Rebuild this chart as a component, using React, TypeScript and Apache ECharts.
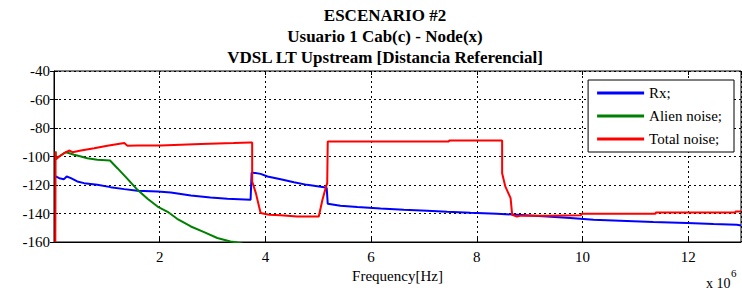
import React, { useEffect, useRef } from "react";
import * as echarts from "echarts";

// Frequencies in units of 1e6 Hz, levels in dB
const rxFreq = [0.03, 0.1, 0.19, 0.24, 0.32, 0.44, 0.57, 0.82, 1.07, 1.33, 1.58, 1.96, 2.21, 2.59, 2.96, 3.28, 3.72, 3.74, 3.91, 4.04, 4.29, 4.54, 4.79, 5.11, 5.16, 5.18, 5.42, 5.74, 6.18, 6.62, 7.06, 7.44, 7.88, 8.38, 8.76, 9.33, 9.77, 10.21, 10.71, 11.34, 11.98, 12.48, 12.92, 13.0];
const rxLevel = [-114.0, -115.2, -115.9, -114.0, -115.2, -117.5, -118.7, -119.9, -121.5, -122.9, -124.1, -124.6, -125.3, -127.4, -128.8, -129.7, -130.4, -111.2, -112.2, -114.0, -115.9, -118.0, -119.9, -121.5, -122.0, -133.2, -134.6, -135.5, -136.5, -137.4, -138.1, -138.8, -139.5, -140.2, -140.9, -142.1, -143.2, -144.4, -145.1, -146.0, -146.7, -147.4, -147.9, -148.4];

const alienFreq = [0.03, 0.034, 0.096, 0.19, 0.22, 0.29, 0.38, 0.51, 0.63, 0.82, 1.06, 1.2, 1.39, 1.58, 1.77, 1.96, 2.15, 2.33, 2.59, 2.84, 3.09, 3.34, 3.44, 3.6];
const alienLevel = [-96.5, -101.9, -100.0, -97.7, -97.0, -97.7, -98.8, -100.0, -101.2, -102.3, -102.8, -108.2, -115.7, -123.4, -129.7, -135.1, -138.8, -143.7, -149.1, -153.1, -157.2, -159.6, -160.2, -161.5];

const totalFreq = [0.025, 0.03, 0.034, 0.096, 0.19, 0.285, 0.35, 0.51, 0.76, 1.01, 1.33, 1.39, 1.58, 2.02, 2.4, 2.78, 3.4, 3.72, 3.75, 3.75, 3.82, 3.88, 3.91, 4.07, 4.29, 4.6, 5.01, 5.08, 5.14, 5.17, 5.18, 7.47, 7.48, 8.48, 8.48, 8.54, 8.64, 8.67, 8.76, 8.82, 9.35, 9.97, 9.99, 11.38, 11.39, 12.89, 12.9, 13.0];
const totalLevel = [-160, -96.5, -101.9, -100.0, -97.7, -95.8, -97.0, -95.8, -94.2, -92.5, -90.6, -92.5, -92.3, -92.3, -91.8, -91.3, -90.6, -90.2, -90.2, -117.5, -125.7, -135.1, -139.7, -140.9, -141.2, -142.1, -142.1, -130.4, -122.2, -118.7, -89.5, -89.5, -88.8, -88.8, -111.7, -121.0, -129.2, -140.9, -142.1, -141.6, -141.6, -141.2, -140.2, -140.2, -139.3, -139.3, -138.6, -138.6];

const seriesNames = ["Rx;", "Alien noise;", "Total noise;"];
const seriesColors = ["#0000ff", "#008000", "#ff0000"];
const titleLines = ["ESCENARIO #2", "Usuario 1 Cab(c) - Node(x)", "VDSL LT Upstream [Distancia Referencial]"];
const xTicks = [0, 2, 4, 6, 8, 10, 12];
const yTicks = [-160, -140, -120, -100, -80, -60, -40];

const FONT = "'Liberation Serif', 'Times New Roman', serif";

function pairs(xs: number[], ys: number[]) {
  return xs.map((x, i) => [x, ys[i]]);
}

export default function App() {
  const ref = useRef<HTMLDivElement>(null);
  useEffect(() => {
    if (!ref.current) return;
    const chart = echarts.init(ref.current, null, { renderer: "svg" });
    const xMin = xTicks[0];
    const xMax = 13;
    const yMin = yTicks[0];
    const yMax = yTicks[yTicks.length - 1];
    const dash = { color: "#000", type: [2, 3] as any, width: 1 };
    const axisText = { color: "#000", fontFamily: FONT, fontSize: 15, fontWeight: "normal" };
    const data = [pairs(rxFreq, rxLevel), pairs(alienFreq, alienLevel), pairs(totalFreq, totalLevel)];
    chart.setOption({
      animation: false,
      backgroundColor: "#fff",
      textStyle: { fontFamily: FONT },
      grid: { left: 54, top: 71, right: 1, bottom: 52, show: true, borderColor: "#000", borderWidth: 1, containLabel: false },
      xAxis: [
        {
          type: "value", min: xMin, max: xMax, interval: 2,
          axisLine: { show: true, lineStyle: { color: "#000" } },
          axisTick: { inside: true, length: 4, lineStyle: { color: "#000" } },
          axisLabel: { ...axisText, margin: 7, showMaxLabel: false, formatter: (v: number) => (v === 0 ? "" : String(v)) },
          splitLine: { show: true, lineStyle: dash },
          name: "Frequency[Hz]", nameLocation: "middle", nameGap: 23,
          nameTextStyle: { ...axisText },
        },
        {
          type: "value", min: xMin, max: xMax, interval: 2, position: "top",
          axisLine: { show: false }, axisTick: { inside: true, length: 4, lineStyle: { color: "#000" } },
          axisLabel: { show: false }, splitLine: { show: false },
        },
      ],
      yAxis: [
        {
          type: "value", min: yMin, max: yMax, interval: 20,
          axisLine: { show: true, lineStyle: { color: "#000" } },
          axisTick: { inside: true, length: 4, lineStyle: { color: "#000" } },
          axisLabel: { ...axisText, margin: 4 },
          splitLine: { show: true, lineStyle: dash },
        },
        {
          type: "value", min: yMin, max: yMax, interval: 20, position: "right",
          axisLine: { show: false }, axisTick: { inside: true, length: 4, lineStyle: { color: "#000" } },
          axisLabel: { show: false }, splitLine: { show: false },
        },
      ],
      legend: {
        orient: "vertical", right: 8, top: 80,
        data: seriesNames,
        backgroundColor: "#fff", borderColor: "#000", borderWidth: 1,
        padding: [5, 12, 5, 9],
        itemWidth: 47, itemHeight: 3, itemGap: 7,
        icon: "rect",
        textStyle: { color: "#000", fontFamily: FONT, fontSize: 15, lineHeight: 16 },
      },
      series: seriesNames.map((name, i) => ({
        name, type: "line", data: data[i], showSymbol: false, symbol: "none",
        color: seriesColors[i],
        lineStyle: { color: seriesColors[i], width: 2 },
        clip: true, z: 2 + i,
      })),
      graphic: [
        ...titleLines.map((t, i) => ({
          type: "text", x: 385, y: 15 + i * 21,
          style: { text: t, align: "center", verticalAlign: "middle", fill: "#000", fontFamily: FONT, fontWeight: "bold", fontSize: 17 },
        })),
        {
          type: "text", x: 706, y: 283,
          style: { text: "x 10", align: "left", verticalAlign: "middle", fill: "#000", fontFamily: FONT, fontSize: 14 },
        },
        {
          type: "text", x: 731, y: 273,
          style: { text: "6", align: "left", verticalAlign: "middle", fill: "#000", fontFamily: FONT, fontSize: 11 },
        },
      ],
    });
    return () => chart.dispose();
  }, []);
  return (
    <>
      <style>{`#mlchart svg text { font-family: 'Liberation Serif', 'Times New Roman', serif !important; }`}</style>
      <div id="mlchart" ref={ref} style={{ position: "absolute", left: 0, top: 0, width: 742, height: 294 }} />
    </>
  );
}
